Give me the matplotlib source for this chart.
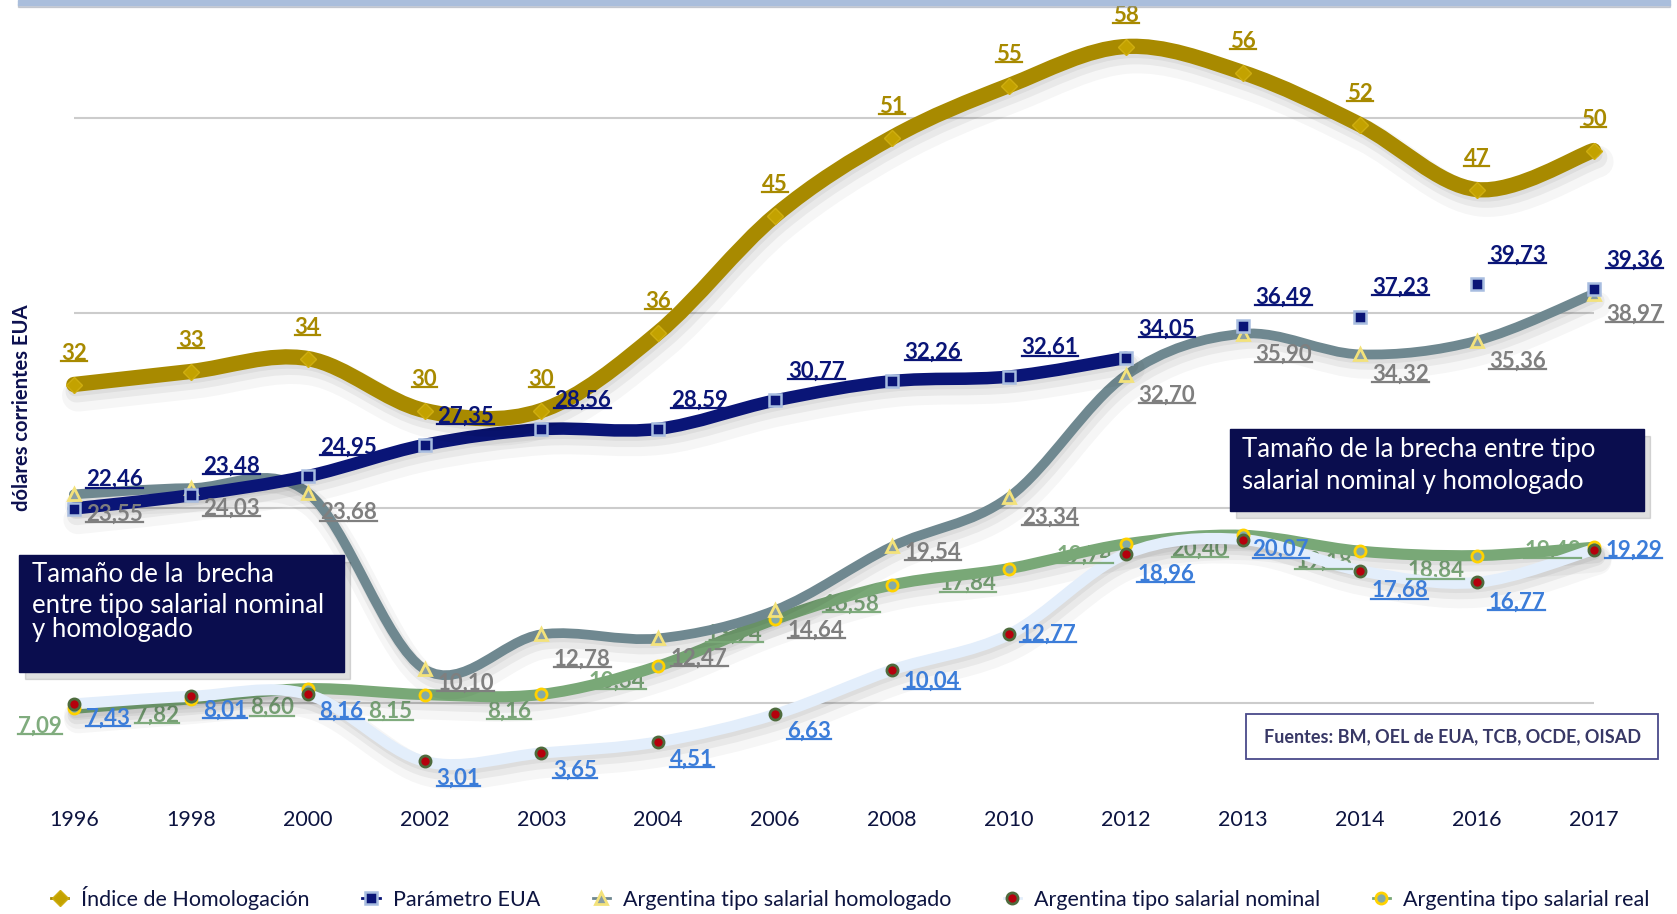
import matplotlib.pyplot as plt
import matplotlib.patheffects as pe
from matplotlib.path import Path
from matplotlib.patches import PathPatch, Rectangle
from matplotlib.lines import Line2D

years = ['1996', '1998', '2000', '2002', '2003', '2004', '2006', '2008',
         '2010', '2012', '2013', '2014', '2016', '2017']
indice = [32, 33, 34, 30, 30, 36, 45, 51, 55, 58, 56, 52, 47, 50]
eua = [22.46, 23.48, 24.95, 27.35, 28.56, 28.59, 30.77, 32.26, 32.61, 34.05,
       36.49, 37.23, 39.73, 39.36]
homologado = [23.55, 24.03, 23.68, 10.10, 12.78, 12.47, 14.64, 19.54, 23.34,
              32.70, 35.90, 34.32, 35.36, 38.97]
nominal = [7.43, 8.01, 8.16, 3.01, 3.65, 4.51, 6.63, 10.04, 12.77, 18.96,
           20.07, 17.68, 16.77, 19.29]
real = [7.09, 7.82, 8.60, 8.15, 8.16, 10.34, 13.94, 16.58, 17.84, 19.74,
        20.40, 19.18, 18.84, 19.48]
labels = ['Índice de Homologación', 'Parámetro EUA',
          'Argentina tipo salarial homologado',
          'Argentina tipo salarial nominal', 'Argentina tipo salarial real']

GOLD = '#a88a00'
NAVY = '#0a1577'
GREY = '#6f8890'
GREEN = '#79a877'
PALE = '#e3eefb'
DARK = '#0d1440'

plt.rcParams['font.family'] = ['Lato', 'DejaVu Sans']

W, H = 1677, 914
fig = plt.figure(figsize=(W / 100, H / 100), dpi=100)
zero_px = 800.5
ax = fig.add_axes([0, (H - zero_px) / H, 1, zero_px / H])
ax.set_xlim(-73.8 / 116.9, (W - 73.8) / 116.9)
ax.set_ylim(0, zero_px / 13.0)
for s in ax.spines.values():
    s.set_visible(False)
ax.set_yticks([])
x = list(range(len(years)))
ax.set_xticks(x)
ax.set_xticklabels(years, fontsize=15.5, color=DARK)
ax.tick_params(axis='x', length=0, pad=7)

ax.hlines([7.5, 22.5, 37.5, 52.5], 0, len(years) - 1, color='#cccccc', lw=1.5, zorder=0)


def shadow(lw):
    return [pe.SimpleLineShadow(offset=(3, -8), shadow_color='k', alpha=0.035, linewidth=lw + 12),
            pe.SimpleLineShadow(offset=(2, -5), shadow_color='k', alpha=0.05, linewidth=lw + 5),
            pe.SimpleLineShadow(offset=(1, -3), shadow_color='k', alpha=0.05, linewidth=lw),
            pe.Normal()]


def smooth(xs, ys, color, lw, z):
    pts = list(zip(xs, ys))
    n = len(pts)
    verts = [pts[0]]
    codes = [Path.MOVETO]
    for i in range(n - 1):
        p0 = pts[i - 1] if i > 0 else pts[i]
        p1, p2 = pts[i], pts[i + 1]
        p3 = pts[i + 2] if i + 2 < n else pts[i + 1]
        c1 = (p1[0] + (p2[0] - p0[0]) / 6, p1[1] + (p2[1] - p0[1]) / 6)
        c2 = (p2[0] - (p3[0] - p1[0]) / 6, p2[1] - (p3[1] - p1[1]) / 6)
        verts += [c1, c2, p2]
        codes += [Path.CURVE4] * 3
    patch = PathPatch(Path(verts, codes), fill=False, edgecolor=color, lw=lw,
                      capstyle='round', joinstyle='round', zorder=z)
    patch.set_path_effects(shadow(lw))
    ax.add_patch(patch)


smooth(x, real, GREEN, 8, 2)
smooth(x, nominal, PALE, 8, 2.2)
smooth(x, homologado, GREY, 7, 2.4)
smooth(x[:10], eua[:10], NAVY, 9, 2.6)
smooth(x, indice, GOLD, 11, 2.8)

mk_real = dict(marker='o', ms=8, mfc='#84aaa6', mec='#ffd200', mew=2, ls='none')
mk_nom = dict(marker='o', ms=8, mfc='#b5000c', mec='#4e6b3d', mew=2, ls='none')
mk_hom = dict(marker='^', ms=8, mfc='#8a9ea3', mec='#f3e27b', mew=2, ls='none')
mk_eua = dict(marker='s', ms=8, mfc=NAVY, mec='#a8bde0', mew=1.8, ls='none')
mk_ind = dict(marker='D', ms=8, mfc='#c3a200', mec='#cfae10', mew=1, ls='none')
ax.plot(x, real, zorder=5, **mk_real)
ax.plot(x, nominal, zorder=5.2, **mk_nom)
ax.plot(x, homologado, zorder=5.4, **mk_hom)
ax.plot(x, eua, zorder=5.6, **mk_eua)
ax.plot(x, indice, zorder=5.8, **mk_ind)


def fmt(v):
    return f'{v:.2f}'.replace('.', ',')


texts = []


def put(xi, v, s, color, off, z=7, alpha=1.0):
    t = ax.annotate(s, (xi, v), xytext=off, textcoords='offset pixels',
                    ha='center', va='center', fontsize=16, fontweight='bold',
                    color=color, zorder=z, alpha=alpha)
    texts.append(t)


for i, v in enumerate(indice):
    put(i, v, str(v), GOLD, (0, 31))
for i, v in enumerate(eua):
    put(i, v, fmt(v), NAVY, (41, 29))
hom_dy = {3: -14, 4: -25, 7: -6}
for i, v in enumerate(homologado):
    put(i, v, fmt(v), '#7f7f7f', (41, hom_dy.get(i, -20)))
nom_off = {0: (34, -14), 1: (34, -14), 7: (40, -11), 8: (39, 0), 10: (38, -10),
           13: (40, 0)}
for i, v in enumerate(nominal):
    d = nom_off.get(i, (34, -17) if i < 7 else (40, -20))
    put(i, v, fmt(v), '#3c7dd9', d)
real_off = {0: (-34, -18), 1: (-34, -16), 2: (-36, -19), 3: (-34, -17),
            4: (-32, -17), 7: (-41, -19), 9: (-41, -11), 10: (-43, -14),
            11: (-36, -10), 13: (-41, -3)}
for i, v in enumerate(real):
    put(i, v, fmt(v), GREEN, real_off.get(i, (-41, -15)), z=1.9, alpha=0.95)

# top band
fig.patches.append(Rectangle((18 / W, 1 - 7 / H), 1652 / W, 3 / H, transform=fig.transFigure,
                             color='#7d8696', alpha=0.35, zorder=0))
fig.patches.append(Rectangle((18 / W, 1 - 5 / H), 1652 / W, 5 / H, transform=fig.transFigure,
                             color='#aabedc', zorder=1))

fig.text(22 / W, 1 - 408 / H, 'dólares corrientes EUA', rotation=90, ha='center',
         va='center', fontsize=14.5, fontweight='bold', color='#0d1150')


def navy_box(x0, y0, x1, y1, lines, tx, tys):
    fig.patches.append(Rectangle(((x0 + 6) / W, 1 - (y1 + 7) / H), (x1 - x0) / W, (y1 - y0) / H,
                                 transform=fig.transFigure, color='k', alpha=0.12, zorder=8))
    fig.patches.append(Rectangle((x0 / W, 1 - y1 / H), (x1 - x0) / W, (y1 - y0) / H,
                                 transform=fig.transFigure, color='#0a0d4e', zorder=9))
    for s, ty in zip(lines, tys):
        fig.text(tx / W, 1 - ty / H, s, ha='left', va='center', fontsize=18.5,
                 color='white', zorder=10)


navy_box(19, 555, 344, 672, ['Tamaño de la  brecha', 'entre tipo salarial nominal',
                             'y homologado'], 32, [575, 606, 629])
navy_box(1230, 429, 1644, 511, ['Tamaño de la brecha entre tipo',
                                'salarial nominal y homologado'], 1242, [449, 481])

fig.patches.append(Rectangle((1246 / W, 1 - 759 / H), 412 / W, 45 / H, transform=fig.transFigure,
                             facecolor='white', edgecolor='#4a4a8a', lw=1.3, zorder=9))
fig.text(1452 / W, 1 - 737 / H, 'Fuentes: BM, OEL de EUA, TCB, OCDE, OISAD', ha='center',
         va='center', fontsize=13, fontweight='bold', color='#383866', zorder=10)

handles = [Line2D([], [], color=GOLD, lw=2, **{k: v for k, v in mk_ind.items() if k != 'ls'}),
           Line2D([], [], color=NAVY, lw=2, **{k: v for k, v in mk_eua.items() if k != 'ls'}),
           Line2D([], [], color=GREY, lw=2, **{k: v for k, v in mk_hom.items() if k != 'ls'}),
           Line2D([], [], color=PALE, lw=2, **{k: v for k, v in mk_nom.items() if k != 'ls'}),
           Line2D([], [], color=GREEN, lw=2, **{k: v for k, v in mk_real.items() if k != 'ls'})]
leg = fig.legend(handles, labels, ncol=5, loc='center', bbox_to_anchor=(0.507, 1 - 898 / H),
                 frameon=False, fontsize=15.5, handlelength=0.8, columnspacing=2.45,
                 handletextpad=0.6)
for t in leg.get_texts():
    t.set_color(DARK)

# underline the value labels
fig.canvas.draw()
r = fig.canvas.get_renderer()
for t in texts:
    bb = t.get_window_extent(r)
    yy = (bb.y0 + 0.12 * bb.height) / H
    fig.add_artist(Line2D([bb.x0 / W, bb.x1 / W], [yy, yy], color=t.get_color(),
                          lw=1.6, alpha=t.get_alpha() or 1, zorder=t.get_zorder()))

fig.savefig('out.png', dpi=100)
